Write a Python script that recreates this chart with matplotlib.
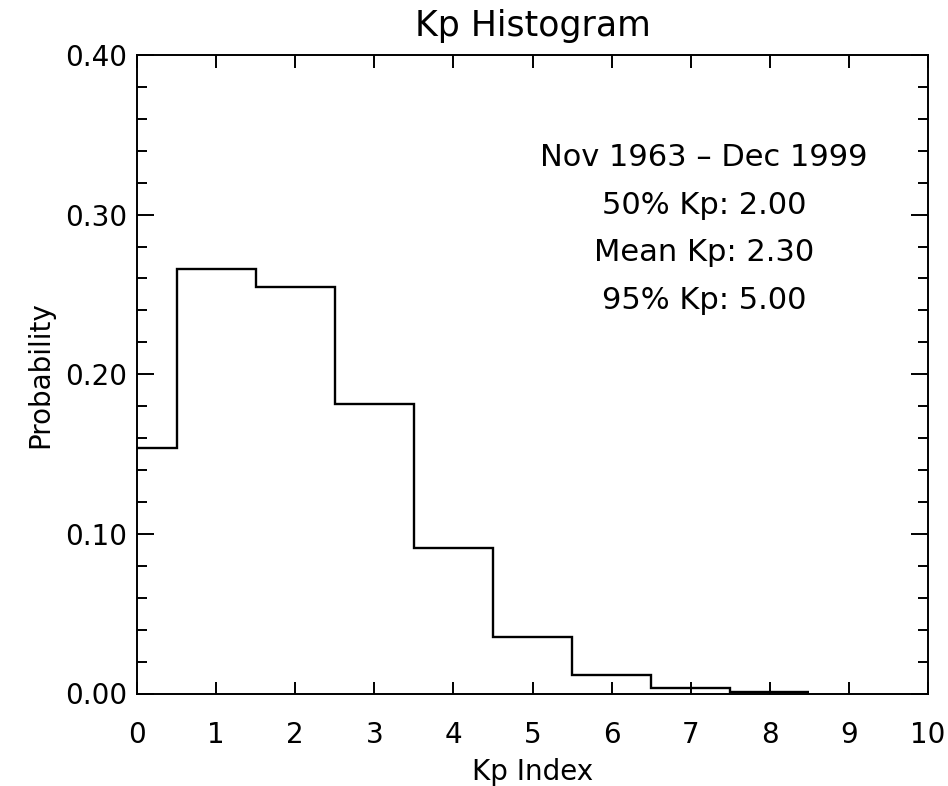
import numpy as np
import matplotlib
matplotlib.use("Agg")
import matplotlib.pyplot as plt
from matplotlib.ticker import MultipleLocator, FixedLocator

kp_index = [0, 1, 2, 3, 4, 5, 6, 7, 8]
probability = [0.154, 0.266, 0.2547, 0.1816, 0.0914, 0.0353, 0.0113, 0.0036, 0.0008]
x_ticks = [0, 1, 2, 3, 4, 5, 6, 7, 8, 9, 10]
y_ticks = [0.0, 0.1, 0.2, 0.3, 0.4]
y_tick_labels = ["0.00", "0.10", "0.20", "0.30", "0.40"]
annotations = ["Nov 1963 \u2013 Dec 1999", "50% Kp: 2.00", "Mean Kp: 2.30", "95% Kp: 5.00"]

plt.rcParams['font.family'] = ['DejaVu Sans']
fig = plt.figure(figsize=(9.48, 7.86), dpi=100)
ax = fig.add_axes([137/948, 1 - 693.5/786, (928-137)/948, (693.5-55)/786])

edges = np.concatenate([np.array(kp_index) - 0.5, [kp_index[-1] + 0.5]])
ax.stairs(probability, edges, baseline=None, color='black', linewidth=1.7)

ax.set_xlim(0, 10)
ax.set_ylim(0, 0.4)
ax.xaxis.set_major_locator(FixedLocator(x_ticks))
ax.set_xticklabels([str(t) for t in x_ticks])
ax.yaxis.set_major_locator(FixedLocator(y_ticks))
ax.set_yticklabels(y_tick_labels)
ax.yaxis.set_minor_locator(MultipleLocator(0.02))

for s in ax.spines.values():
    s.set_linewidth(1.4)
ax.tick_params(axis='both', which='both', direction='in', top=True, right=True,
               width=1.4, labelsize=20)
ax.tick_params(axis='x', which='major', length=9, pad=20)
ax.tick_params(axis='y', which='major', length=12, pad=7)
ax.tick_params(axis='y', which='minor', length=7)

ax.set_title("Kp Histogram", fontsize=25, pad=14)
ax.set_xlabel("Kp Index", fontsize=20, labelpad=6)
ax.set_ylabel("Probability", fontsize=20, labelpad=8)

ys = [0.840, 0.765, 0.690, 0.615]
for txt, yy in zip(annotations, ys):
    ax.text(0.717, yy, txt, transform=ax.transAxes, ha='center', va='center', fontsize=22)

fig.savefig("out.png", dpi=100)
